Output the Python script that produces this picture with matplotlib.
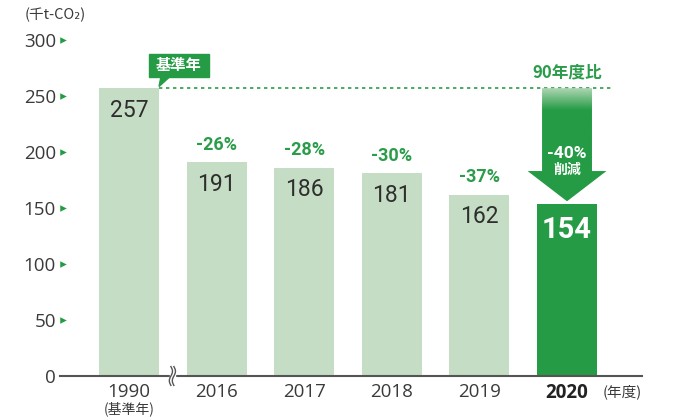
import matplotlib.pyplot as plt
import numpy as np
from matplotlib.patches import Polygon, Rectangle
from matplotlib.transforms import blended_transform_factory, offset_copy

plt.rcParams['font.family'] = ['Noto Sans CJK JP', 'DejaVu Sans']

# 排出量 (千t-CO2)
anos = ['1990', '2016', '2017', '2018', '2019', '2020']
emissoes = [257, 191, 186, 181, 162, 154]
yticks = [0, 50, 100, 150, 200, 250, 300]

verde_claro = '#c4ddc4'
verde = '#259b45'
verde_txt = '#2b9c4a'
cinza = '#3a3a3a'

fig = plt.figure(figsize=(6.74, 4.2), dpi=100)
ax = fig.add_axes([60 / 674, 44 / 420, 582 / 674, 336 / 420])

x = np.arange(len(anos))
largura = 0.685
base = emissoes[0]

cores = [verde_claro] * (len(anos) - 1) + [verde]
ax.bar(x, emissoes, width=largura, color=cores, zorder=2)

ax.set_xlim(-0.788, 5.856)
ax.set_ylim(0, 300)

for lado in ['top', 'right', 'left']:
    ax.spines[lado].set_visible(False)
ax.spines['bottom'].set_color('#555555')
ax.spines['bottom'].set_linewidth(1.5)
ax.spines['bottom'].set_zorder(3)

# Eixo y com pequenos triângulos verdes
ax.set_yticks(yticks)
ax.set_yticklabels([str(v) for v in yticks], fontsize=13.5, color=cinza,
                   family=['Open Sans', 'DejaVu Sans'])
ax.tick_params(axis='y', length=0, pad=3)
trans_y = blended_transform_factory(ax.transAxes, ax.transData)
ax.scatter([0.006] * (len(yticks) - 1), yticks[1:], marker='>', s=22,
           color=verde, transform=trans_y, clip_on=False, zorder=4, linewidths=0)

# Eixo x
ax.set_xticks(x)
ax.set_xticklabels(anos, fontsize=13.5, color=cinza, family=['Open Sans', 'DejaVu Sans'])
ax.tick_params(axis='x', length=0, pad=5)
ax.get_xticklabels()[-1].set_fontweight('bold')
ax.get_xticklabels()[-1].set_color('#222222')
ax.text(x[0], 0, '(基準年)', ha='center', va='center', fontsize=10, color=cinza,
        transform=offset_copy(ax.transData, fig=fig, x=0, y=-23.5, units='points'))
ax.text(1.0, 0, '(年度)', transform=offset_copy(ax.transAxes, fig=fig, x=0, y=-11.5, units='points'),
        ha='right', va='center', fontsize=10.5, color=cinza)
fig.text(25 / 674, 1 - 15 / 420, '(千t-CO₂)', ha='left', va='center', fontsize=10.5, color=cinza)

# Valores dentro das barras
for i, v in enumerate(emissoes[:-1]):
    ax.annotate(str(v), (x[i], v), xytext=(0, -16), textcoords='offset points',
                ha='center', va='center', fontsize=16.5, color='#2e2e2e', family='Roboto',
                zorder=5)
ax.annotate(str(emissoes[-1]), (x[-1], emissoes[-1]), xytext=(0, -19), textcoords='offset points',
            ha='center', va='center', fontsize=21, color='white', family='Roboto',
            fontweight='bold', zorder=5)

# Redução em relação a 1990
for i, v in enumerate(emissoes[1:-1], start=1):
    pct = round((v / base - 1) * 100)
    ax.annotate(f'{pct}%', (x[i], v), xytext=(0, 12.5), textcoords='offset points',
                ha='center', va='center', fontsize=13, color=verde_txt, family='Roboto',
                fontweight='bold', zorder=5)

# Linha pontilhada do ano base
ax.plot([x[0] + largura / 2, x[-1] + 0.51], [base, base], color=verde_txt, lw=1.2,
        dashes=(2, 2.2), zorder=3)

# Caixa "基準年"
bx0, bx1 = x[0] + 0.23, x[0] + 0.91
ax.add_patch(Rectangle((bx0, base + 10), bx1 - bx0, 20.5, color=verde, zorder=5, clip_on=False))
ax.add_patch(Polygon([[x[0] + 0.365, base + 10.5], [x[0] + 0.47, base + 10.5],
                      [x[0] + largura / 2, base + 1.5]], closed=True, color=verde, zorder=5))
ax.text((bx0 + bx1) / 2, base + 20.5, '基準年', ha='center', va='center', fontsize=11,
        color='white', fontweight='bold', zorder=6)

# Seta de redução 1990 -> 2020
xc = x[-1]
pct_total = round((emissoes[-1] / base - 1) * 100)
meia_haste, meia_cab = 0.285, 0.45
topo_cab = 183
ponta = emissoes[-1] + 2
seta = Polygon([[xc - meia_haste, base], [xc + meia_haste, base], [xc + meia_haste, topo_cab],
                [xc + meia_cab, topo_cab], [xc, ponta], [xc - meia_cab, topo_cab],
                [xc - meia_haste, topo_cab]], closed=True, facecolor='none', edgecolor='none')
ax.add_patch(seta)
n = 200
c1 = np.array([0.70, 0.85, 0.72])
c2 = np.array([0x25, 0x9b, 0x45]) / 255
t = np.clip(np.linspace(0, 1, n) / 0.2, 0, 1)[:, None]
grad = (c1 * (1 - t) + c2 * t)[:, None, :]
img = ax.imshow(grad, extent=[xc - meia_cab, xc + meia_cab, ponta, base], aspect='auto',
                zorder=4, interpolation='bilinear')
img.set_clip_path(seta)
ax.set_xlim(-0.788, 5.856)
ax.set_ylim(0, 300)

ax.text(xc, 199, f'{pct_total}%', ha='center', va='center', fontsize=12.5, color='white',
        family='Roboto', fontweight='bold', zorder=6)
ax.text(xc, 184, '削減', ha='center', va='center', fontsize=10, color='white',
        fontweight='bold', zorder=6)
ax.text(xc, 271, '90年度比', ha='center', va='center', fontsize=12, color=verde_txt,
        fontweight='bold', zorder=6)

# Marca de quebra no eixo
xq = 0.49
trans_q = blended_transform_factory(ax.transData, ax.transAxes)
ax.add_patch(Rectangle((xq - 0.02, -0.03), 0.05, 0.06, color='white', transform=trans_q,
                       clip_on=False, zorder=6))
s = np.linspace(-1, 1, 30)
for dx in (-0.012, 0.022):
    ax.plot(xq + dx + 0.018 * np.sin(s * np.pi), s * 0.028, color='#555555', lw=1.0,
            transform=trans_q, clip_on=False, zorder=7)

plt.savefig('out.png', dpi=100)
